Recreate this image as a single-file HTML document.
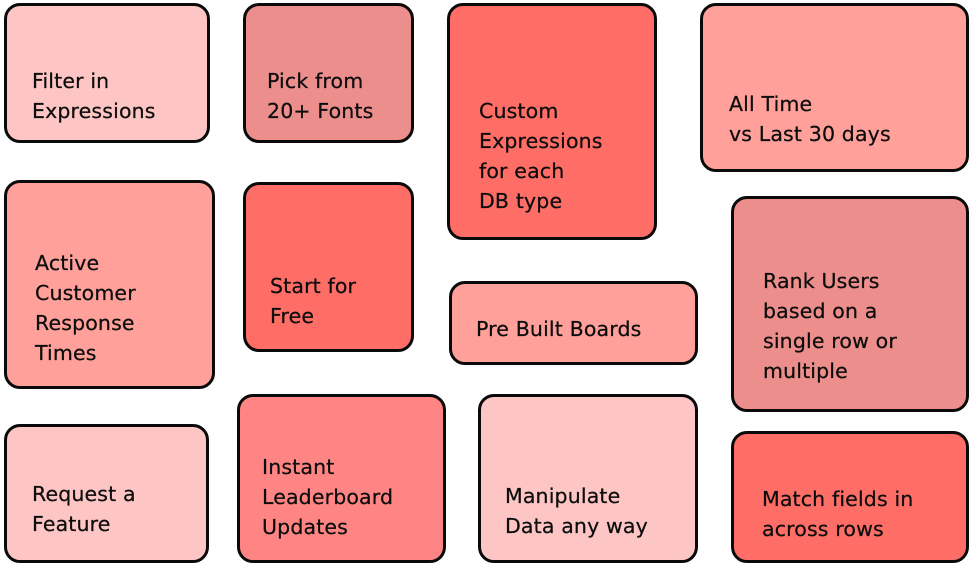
<!DOCTYPE html>
<html>
<head>
<meta charset="utf-8">
<style>
  html, body { margin:0; padding:0; background:#ffffff; }
  body { width:970px; height:565px; position:relative; overflow:hidden;
         font-family:"DejaVu Sans", "Liberation Sans", sans-serif; }
  .b { position:absolute; box-sizing:border-box; border:3px solid #0a0a0a; border-radius:16px; }
  .t { position:absolute; font-size:20.5px; line-height:30px; color:#0d0d0d; letter-spacing:0.15px; white-space:nowrap; -webkit-text-stroke:0.25px #0d0d0d; }
  .lp { background:#fdc6c4; }
  .dp { background:#eb8e8c; }
  .co { background:#ff6e66; }
  .sa { background:#ffa09a; }
  .in { background:#ff8585; }
</style>
</head>
<body>
  <div class="b lp" style="left:4px;top:3px;width:206px;height:140px;"></div>
  <div class="t" style="left:32px;top:66px;">Filter in<br>Expressions</div>

  <div class="b dp" style="left:243px;top:3px;width:171px;height:140px;"></div>
  <div class="t" style="left:267px;top:66px;">Pick from<br>20+ Fonts</div>

  <div class="b co" style="left:447px;top:3px;width:210px;height:237px;"></div>
  <div class="t" style="left:479px;top:96px;">Custom<br>Expressions<br>for each<br>DB type</div>

  <div class="b sa" style="left:700px;top:3px;width:269px;height:169px;"></div>
  <div class="t" style="left:729px;top:89px;">All Time<br>vs Last 30 days</div>

  <div class="b sa" style="left:4px;top:180px;width:211px;height:209px;"></div>
  <div class="t" style="left:35px;top:248px;">Active<br>Customer<br>Response<br>Times</div>

  <div class="b co" style="left:243px;top:182px;width:171px;height:170px;"></div>
  <div class="t" style="left:270px;top:271px;">Start for<br>Free</div>

  <div class="b sa" style="left:449px;top:281px;width:249px;height:84px;"></div>
  <div class="t" style="left:476px;top:314px;">Pre Built Boards</div>

  <div class="b dp" style="left:731px;top:196px;width:238px;height:216px;"></div>
  <div class="t" style="left:763px;top:266px;">Rank Users<br>based on a<br>single row or<br>multiple</div>

  <div class="b lp" style="left:4px;top:424px;width:205px;height:139px;"></div>
  <div class="t" style="left:32px;top:479px;">Request a<br>Feature</div>

  <div class="b in" style="left:237px;top:394px;width:209px;height:169px;"></div>
  <div class="t" style="left:262px;top:452px;">Instant<br>Leaderboard<br>Updates</div>

  <div class="b lp" style="left:478px;top:394px;width:220px;height:169px;"></div>
  <div class="t" style="left:505px;top:481px;">Manipulate<br>Data any way</div>

  <div class="b co" style="left:731px;top:431px;width:238px;height:132px;"></div>
  <div class="t" style="left:762px;top:484px;">Match fields in<br>across rows</div>
</body>
</html>
